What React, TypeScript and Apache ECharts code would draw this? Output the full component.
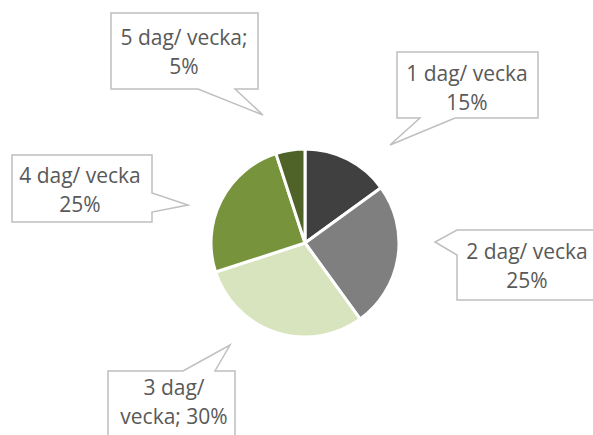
import React, { useEffect, useRef } from "react";
import * as echarts from "echarts";

const categories = ["1 dag/ vecka", "2 dag/ vecka", "3 dag/ vecka", "4 dag/ vecka", "5 dag/ vecka"];
const values = [15, 25, 30, 25, 5];
const colors = ["#404040", "#7F7F7F", "#D7E4BD", "#77933C", "#4F6228"];
// label text per slice (line break style as in the original)
const labelTexts = [
  "1 dag/ vecka\n15%",
  "2 dag/ vecka\n25%",
  "3 dag/\nvecka; 30%",
  "4 dag/ vecka\n25%",
  "5 dag/ vecka;\n5%",
];

// callout label centres (layout)
const labelPos = [
  [467, 87],
  [527, 265],
  [174, 401],
  [80, 189],
  [184, 51],
];

// callout bubble outlines (layout)
const bubbles = [
  [[397, 52], [538, 52], [538, 118], [455, 118], [390, 145], [420, 118], [397, 118]],
  [[457, 230], [605, 230], [605, 300], [457, 300], [457, 255], [435, 242]],
  [[108, 371], [183, 371], [230, 345], [215, 371], [235, 371], [235, 445], [108, 445]],
  [[12, 155], [152, 155], [152, 193], [188, 205], [152, 212], [152, 222], [12, 222]],
  [[111, 13], [258, 13], [258, 89], [235, 89], [263, 115], [198, 89], [111, 89]],
];

export default function App() {
  const ref = useRef<HTMLDivElement>(null);
  useEffect(() => {
    document.body.style.margin = "0";
    const chart = echarts.init(ref.current!, null, { renderer: "svg" });
    chart.setOption({
      animation: false,
      backgroundColor: "#ffffff",
      graphic: bubbles.map((pts) => ({
        type: "polygon",
        z: 0,
        shape: { points: pts },
        style: { fill: "#ffffff", stroke: "#BFBFBF", lineWidth: 1.5 },
      })),
      series: [
        {
          type: "pie",
          center: [305, 243],
          radius: 94,
          startAngle: 90,
          clockwise: true,
          z: 5,
          itemStyle: { borderColor: "#ffffff", borderWidth: 3 },
          label: {
            show: true,
            formatter: (p: any) => labelTexts[p.dataIndex],
            fontFamily: "Open Sans",
            fontSize: 21,
            lineHeight: 29,
            color: "#595959",
            align: "center",
          },
          labelLine: { show: false },
          labelLayout: (p: any) => ({
            x: labelPos[p.dataIndex][0],
            y: labelPos[p.dataIndex][1],
            align: "center",
            verticalAlign: "middle",
          }),
          data: categories.map((c, i) => ({
            name: c,
            value: values[i],
            itemStyle: { color: colors[i] },
          })),
        },
      ],
    });
    return () => chart.dispose();
  }, []);
  return <div ref={ref} style={{ width: 593, height: 435 }} />;
}
